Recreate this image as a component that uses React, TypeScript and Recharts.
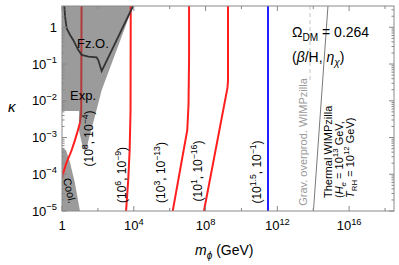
import React from "react";
import { ComposedChart, XAxis, YAxis, Line, Area } from "recharts";

// all values are log10: x = log10(m_phi / GeV), y = log10(kappa)
const expRegionX = [0, 0.95, 0.95, 1.0, 1.17, 1.34, 1.48, 1.74, 2.21, 3.96];
const expRegionLow = [-2.28, -2.28, -2.8, -2.93, -3.29, -3.37, -3.07, -2.6, -1.71, 0.58];

const coolRegionX = [0, 0.22, 0.45, 0.72, 1.0];
const coolRegionHigh = [-3.29, -3.34, -3.69, -4.24, -5];

const fzoX = [0.13, 0.17, 0.26, 0.45, 0.63, 0.91, 1.1, 1.47, 1.93, 2.02, 2.21, 3.96];
const fzoY = [0.58, 0.29, -0.03, -0.21, -0.35, -0.62, -0.75, -0.8, -0.82, -0.89, -1.19, 0.58];

// (10^8, 10^-4): lower part outside the excluded band, upper part inside it
const curve8X = [0, 0.17, 0.54, 0.84, 1.0];
const curve8Y = [-4.1, -3.8, -3.34, -2.88, -2.6];
const curve8InX = [1.0, 1.07, 1.09];
const curve8InY = [-2.6, -2.31, 0.58];

const curve6X = [3.57, 3.69, 3.77, 3.82, 3.83];
const curve6Y = [-5, -4.16, -3.34, -2.25, 0.58];

const curve3X = [6.17, 6.98, 7.05, 7.08, 7.08];
const curve3Y = [-5, -2.8, -2.1, -0.9, 0.58];

const curve1X = [7.91, 9.22, 9.25, 9.25];
const curve1Y = [-5, -1.65, -1.45, 0.58];

const blueX = [11.48, 11.48];
const blueY = [-5, 0.58];

const gravX = [13.82, 13.82];
const gravY = [0.58, -1.49];

const thermalX = [14.01, 14.82];
const thermalY = [-5, 0.58];

const xTicks = [0, 2, 4, 6, 8, 10, 12, 14, 16, 18];
const xLabelEvery = 4;
const yMajor = [-5, -4, -3, -2, -1, 0];

const X_DOMAIN = [0, 18.5];
const Y_DOMAIN = [-5, 0.58];

const PLOT_LEFT = 62;
const PLOT_RIGHT = 394;
const PLOT_TOP = 6;
const PLOT_BOTTOM = 211;
const FONT = "'Liberation Sans', Arial, sans-serif";

const yTicks: number[] = [];
yMajor.forEach((d) => {
  yTicks.push(d);
  if (d < 0) for (let k = 2; k <= 9; k++) yTicks.push(d + Math.log10(k));
});
[2, 3].forEach((k) => yTicks.push(Math.log10(k)));

const zip = (xs: number[], ys: number[]) => xs.map((x, i) => ({ x, y: ys[i] }));
const expRegion = expRegionX.map((x, i) => ({ x, range: [expRegionLow[i], Y_DOMAIN[1]] }));
const coolRegion = coolRegionX.map((x, i) => ({ x, range: [Y_DOMAIN[0], coolRegionHigh[i]] }));

type Part = { t: string; sup?: boolean; sub?: boolean; it?: boolean };

function rich(parts: Part[], fs: number) {
  let shift = 0;
  return parts.map((p, i) => {
    const target = p.sup ? -0.42 * fs : p.sub ? 0.28 * fs : 0;
    const dy = target - shift;
    shift = target;
    return (
      <tspan key={i} dy={dy} fontSize={p.sup || p.sub ? fs * 0.72 : fs} fontStyle={p.it ? "italic" : undefined}>
        {p.t}
      </tspan>
    );
  });
}

const pair = (a: string, b: string): Part[] => [
  { t: "(10" }, { t: a, sup: true }, { t: ", 10" }, { t: b, sup: true }, { t: ")" },
];

const XTick = (props: any) => {
  const { x, y, payload } = props;
  const v = payload.value;
  const major = v % xLabelEvery === 0;
  const len = major ? 5 : 3;
  return (
    <g>
      <line x1={x} x2={x} y1={y} y2={y - len} stroke="#888" />
      <line x1={x} x2={x} y1={PLOT_TOP} y2={PLOT_TOP + len} stroke="#888" />
      {major && (
        <text x={x} y={y + 19} textAnchor="middle" fontFamily={FONT} fill="#000" style={{ whiteSpace: "pre" }}>
          {v === 0 ? rich([{ t: "1" }], 13) : rich([{ t: "10" }, { t: String(v), sup: true }], 13)}
        </text>
      )}
    </g>
  );
};

const YTick = (props: any) => {
  const { x, y, payload } = props;
  const v = payload.value;
  const major = Math.abs(v - Math.round(v)) < 1e-9;
  const len = major ? 5 : 2.5;
  return (
    <g>
      <line x1={x} x2={x + len} y1={y} y2={y} stroke="#888" />
      <line x1={PLOT_RIGHT} x2={PLOT_RIGHT - len} y1={y} y2={y} stroke="#888" />
      {major && (
        <text x={x - 5} y={y + 4.6} textAnchor="end" fontFamily={FONT} fill="#000" style={{ whiteSpace: "pre" }}>
          {Math.round(v) === 0 ? rich([{ t: "1" }], 13) : rich([{ t: "10" }, { t: "\u2212" + String(-Math.round(v)), sup: true }], 13)}
        </text>
      )}
    </g>
  );
};

const vlabel = (x: number, y: number, parts: Part[], fs: number, anchor = "middle", fill = "#000") => (
  <text
    transform={`translate(${x},${y}) rotate(-90)`}
    textAnchor={anchor as any}
    fontFamily={FONT}
    fill={fill}
    style={{ whiteSpace: "pre" }}
  >
    {rich(parts, fs)}
  </text>
);

const App = () => {
  const red = "#ff1f1f";
  return (
    <div style={{ position: "absolute", left: 0, top: 0, width: 399, height: 265, background: "#fff" }}>
      <ComposedChart width={399} height={265} margin={{ top: PLOT_TOP, right: 399 - PLOT_RIGHT, bottom: 0, left: 0 }}>
        <XAxis
          dataKey="x"
          type="number"
          domain={X_DOMAIN}
          ticks={xTicks}
          interval={0}
          allowDataOverflow
          axisLine={false}
          tickLine={false}
          tickSize={0}
          tickMargin={0}
          height={265 - PLOT_BOTTOM - 0}
          tick={(p: any) => <XTick {...p} />}
        />
        <YAxis
          type="number"
          domain={Y_DOMAIN}
          ticks={yTicks}
          interval={0}
          allowDataOverflow
          axisLine={false}
          tickLine={false}
          tickSize={0}
          tickMargin={0}
          width={PLOT_LEFT}
          tick={(p: any) => <YTick {...p} />}
        />
        <Area data={expRegion} dataKey="range" type="linear" stroke="none" fill="#9b9b9b" fillOpacity={1} isAnimationActive={false} dot={false} activeDot={false} />
        <Area data={coolRegion} dataKey="range" type="linear" stroke="none" fill="#9b9b9b" fillOpacity={1} isAnimationActive={false} dot={false} activeDot={false} />
        <Line data={zip(curve8X, curve8Y)} dataKey="y" type="monotone" stroke={red} strokeWidth={2} dot={false} activeDot={false} isAnimationActive={false} />
        <Line data={zip(curve8InX, curve8InY)} dataKey="y" type="linear" stroke="#b23a3a" strokeWidth={2} dot={false} activeDot={false} isAnimationActive={false} />
        <Line data={zip(curve6X, curve6Y)} dataKey="y" type="linear" stroke={red} strokeWidth={2} dot={false} activeDot={false} isAnimationActive={false} />
        <Line data={zip(curve3X, curve3Y)} dataKey="y" type="linear" stroke={red} strokeWidth={2} dot={false} activeDot={false} isAnimationActive={false} />
        <Line data={zip(curve1X, curve1Y)} dataKey="y" type="linear" stroke={red} strokeWidth={2} dot={false} activeDot={false} isAnimationActive={false} />
        <Line data={zip(blueX, blueY)} dataKey="y" type="linear" stroke="#1f1fff" strokeWidth={2} dot={false} activeDot={false} isAnimationActive={false} />
        <Line data={zip(gravX, gravY)} dataKey="y" type="linear" stroke="#c4c4c4" strokeWidth={1} strokeDasharray="4 3" dot={false} activeDot={false} isAnimationActive={false} />
        <Line data={zip(thermalX, thermalY)} dataKey="y" type="linear" stroke="#555" strokeWidth={0.8} dot={false} activeDot={false} isAnimationActive={false} />
        <Line data={zip(fzoX, fzoY)} dataKey="y" type="linear" stroke="#333" strokeWidth={1.8} dot={false} activeDot={false} isAnimationActive={false} />
      </ComposedChart>
      <svg width={399} height={265} style={{ position: "absolute", left: 0, top: 0, pointerEvents: "none" }}>
        <rect x={PLOT_LEFT} y={PLOT_TOP} width={PLOT_RIGHT - PLOT_LEFT} height={PLOT_BOTTOM - PLOT_TOP} fill="none" stroke="#8a8a8a" />
        <text x={8} y={112} fontFamily={FONT} fontSize={15} fontStyle="italic">κ</text>
        <text x={195} y={255} fontFamily={FONT} style={{ whiteSpace: "pre" }}>
          {rich([{ t: "m", it: true }, { t: "ϕ", sub: true, it: true }, { t: " (GeV)" }], 14)}
        </text>
        <text x={77} y={48} fontFamily={FONT} fontSize={13}>Fz.O.</text>
        <text x={70} y={100} fontFamily={FONT} fontSize={13}>Exp.</text>
        <text transform="translate(63,179) rotate(77)" fontFamily={FONT} fontSize={11}>Cool.</text>
        {vlabel(92.8, 138.5, pair("8", "\u22124"), 12)}
        {vlabel(125.8, 175, pair("6", "\u22129"), 12)}
        {vlabel(165.3, 172.5, pair("3", "\u221213"), 12)}
        {vlabel(201.8, 171, pair("1", "\u221216"), 12)}
        {vlabel(260.8, 172, pair("1.5", "\u22121"), 12)}
        {vlabel(306.5, 142, [{ t: "Grav. overprod. WIMPzilla" }], 11, "middle", "#9a9a9a")}
        {vlabel(331.5, 198, [{ t: "Thermal WIMPzilla" }], 11, "start")}
        {vlabel(343, 198, [{ t: "(" }, { t: "H", it: true }, { t: "e", sub: true, it: true }, { t: " = 10" }, { t: "13", sup: true }, { t: " GeV," }], 11, "start")}
        {vlabel(353.5, 198, [{ t: "T", it: true }, { t: "RH", sub: true }, { t: " = 10" }, { t: "12", sup: true }, { t: " GeV)" }], 11, "start")}
        <text x={292} y={37} fontFamily={FONT} style={{ whiteSpace: "pre" }}>
          {rich([{ t: "Ω" }, { t: "DM", sub: true }, { t: " = 0.264" }], 14)}
        </text>
        <text x={292} y={62} fontFamily={FONT} style={{ whiteSpace: "pre" }}>
          {rich([{ t: "(" }, { t: "β", it: true }, { t: "/H, " }, { t: "η", it: true }, { t: "χ", sub: true, it: true }, { t: ")" }], 14)}
        </text>
      </svg>
    </div>
  );
};

export default App;
